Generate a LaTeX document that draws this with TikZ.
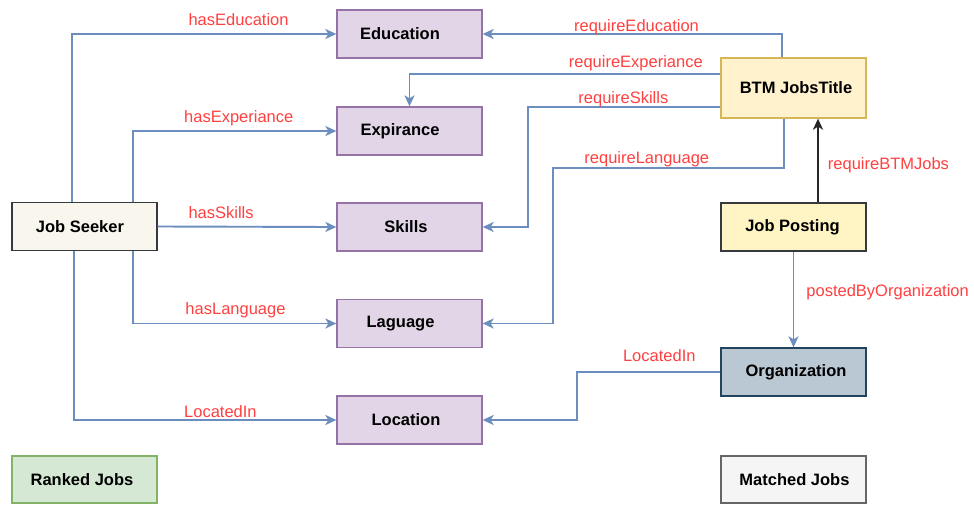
\documentclass[tikz,border=0pt]{standalone}
\usepackage{fontspec}
\setmainfont{Liberation Sans}
\usetikzlibrary{arrows.meta}

\definecolor{linkblue}{HTML}{6C8EBF}
\definecolor{lblred}{HTML}{FF4040}
\definecolor{purplefill}{HTML}{E1D5E7}
\definecolor{purpleline}{HTML}{9673A6}
\definecolor{seekerfill}{HTML}{F9F7ED}
\definecolor{darkline}{HTML}{36393D}
\definecolor{btmfill}{HTML}{FFF2CC}
\definecolor{btmline}{HTML}{D6B656}
\definecolor{postfill}{HTML}{FFF4C3}
\definecolor{orgfill}{HTML}{BAC8D3}
\definecolor{orgline}{HTML}{23445D}
\definecolor{greenfill}{HTML}{D5E8D4}
\definecolor{greenline}{HTML}{82B366}
\definecolor{greyfill}{HTML}{F5F5F5}
\definecolor{greyline}{HTML}{666666}

% nudge a box caption sideways by #1 (negative = left)
\newcommand\capshift[2]{\hspace*{#1}\hspace*{#1}#2}

\begin{document}
\begin{tikzpicture}[
  x=1pt, y=-1pt,
  box/.style={draw, line width=1.3pt, minimum width=145pt, minimum height=48pt,
    inner sep=0pt, font=\fontsize{16.5}{19}\selectfont\bfseries},
  concept/.style={box, fill=purplefill, draw=purpleline},
  link/.style={draw=linkblue, line width=1.9pt,
    -{Stealth[length=11pt, width=10pt, inset=3pt]}},
  blacklink/.style={draw=black!85, line width=1.9pt,
    -{Stealth[length=11pt, width=10pt, inset=3pt]}},
  lbl/.style={text=lblred, inner sep=0pt, font=\fontsize{16.5}{19}\selectfont}
]
\useasboundingbox[fill=white] (0,0) rectangle (974,504);

% concept boxes in the middle column
\node[concept] (edu)    at (409.5,34)    {\capshift{-9.5pt}{Education}};
\node[concept] (exp)    at (409.5,131)   {\capshift{-9.5pt}{Expirance}};
\node[concept] (skills) at (409.5,227)   {\capshift{-3.5pt}{Skills}};
\node[concept] (lang)   at (409.5,323.5) {\capshift{-9pt}{Laguage}};
\node[concept] (loc)    at (409.5,420)   {\capshift{-3.5pt}{Location}};

% left column
\node[box, fill=seekerfill, draw=darkline] (seeker) at (84.5,226.5) {\capshift{-4.5pt}{Job Seeker}};
\node[box, fill=greenfill, draw=greenline, minimum height=47pt] (ranked) at (84.5,479.5) {\capshift{-2.5pt}{Ranked Jobs}};

% right column
\node[box, fill=btmfill, draw=btmline, minimum height=60pt] (btm) at (793.5,88) {\capshift{2.5pt}{BTM JobsTitle}};
\node[box, fill=postfill, draw=darkline] (post) at (793.5,227) {\capshift{-1pt}{Job Posting}};
\node[box, fill=orgfill, draw=orgline] (org) at (793.5,372) {\capshift{2.5pt}{Organization}};
\node[box, fill=greyfill, draw=greyline, minimum height=47pt] (matched) at (793.5,479.5) {\capshift{1pt}{Matched Jobs}};

% Job Seeker properties
\draw[link] ([xshift=-12.5pt]seeker.north) |- node[lbl, pos=0.815, yshift=14pt] {hasEducation} (edu.west);
\draw[link] ([xshift=48.5pt]seeker.north) |- node[lbl, pos=0.76, yshift=13pt] {hasExperiance} (exp.west);
\draw[link] (seeker.east) -- node[lbl, pos=0.355, yshift=14pt] {hasSkills} (skills.west);
\draw[link] ([xshift=48.5pt]seeker.south) |- node[lbl, pos=0.752, yshift=13pt] {hasLanguage} (lang.west);
\draw[link] ([xshift=-10.5pt]seeker.south) |- node[lbl, pos=0.779, yshift=8pt] {LocatedIn} (loc.west);

% BTM job title requirements
\draw[link] ([xshift=-11.5pt]btm.north) |- node[lbl, pos=0.743, yshift=7pt] {requireEducation} (edu.east);
\draw[link] ([yshift=14pt]btm.west) -| node[lbl, pos=0.136, yshift=11pt] {requireExperiance} (exp.north);
\draw[link] ([yshift=-19pt]btm.west) -- node[lbl, pos=0.505, yshift=8pt] {requireSkills} ++(-192,0) |- (skills.east);
\draw[link] ([xshift=-9.5pt]btm.south) |- node[lbl, pos=0.797, yshift=8pt] {requireLanguage} ++(-231,49) |- (lang.east);

% job posting relations
\draw[blacklink] ([xshift=24.5pt]post.north) -- node[lbl, pos=0.447, anchor=west, xshift=9pt] {requireBTMJobs} ([xshift=24.5pt]btm.south);
\draw[link] (post.south) -- node[lbl, pos=0.42, anchor=west, xshift=12pt] {postedByOrganization} (org.north);
\draw[link] (org.west) -- node[lbl, pos=0.427, yshift=16pt] {LocatedIn} ++(-143,0) |- (loc.east);
\end{tikzpicture}
\end{document}
